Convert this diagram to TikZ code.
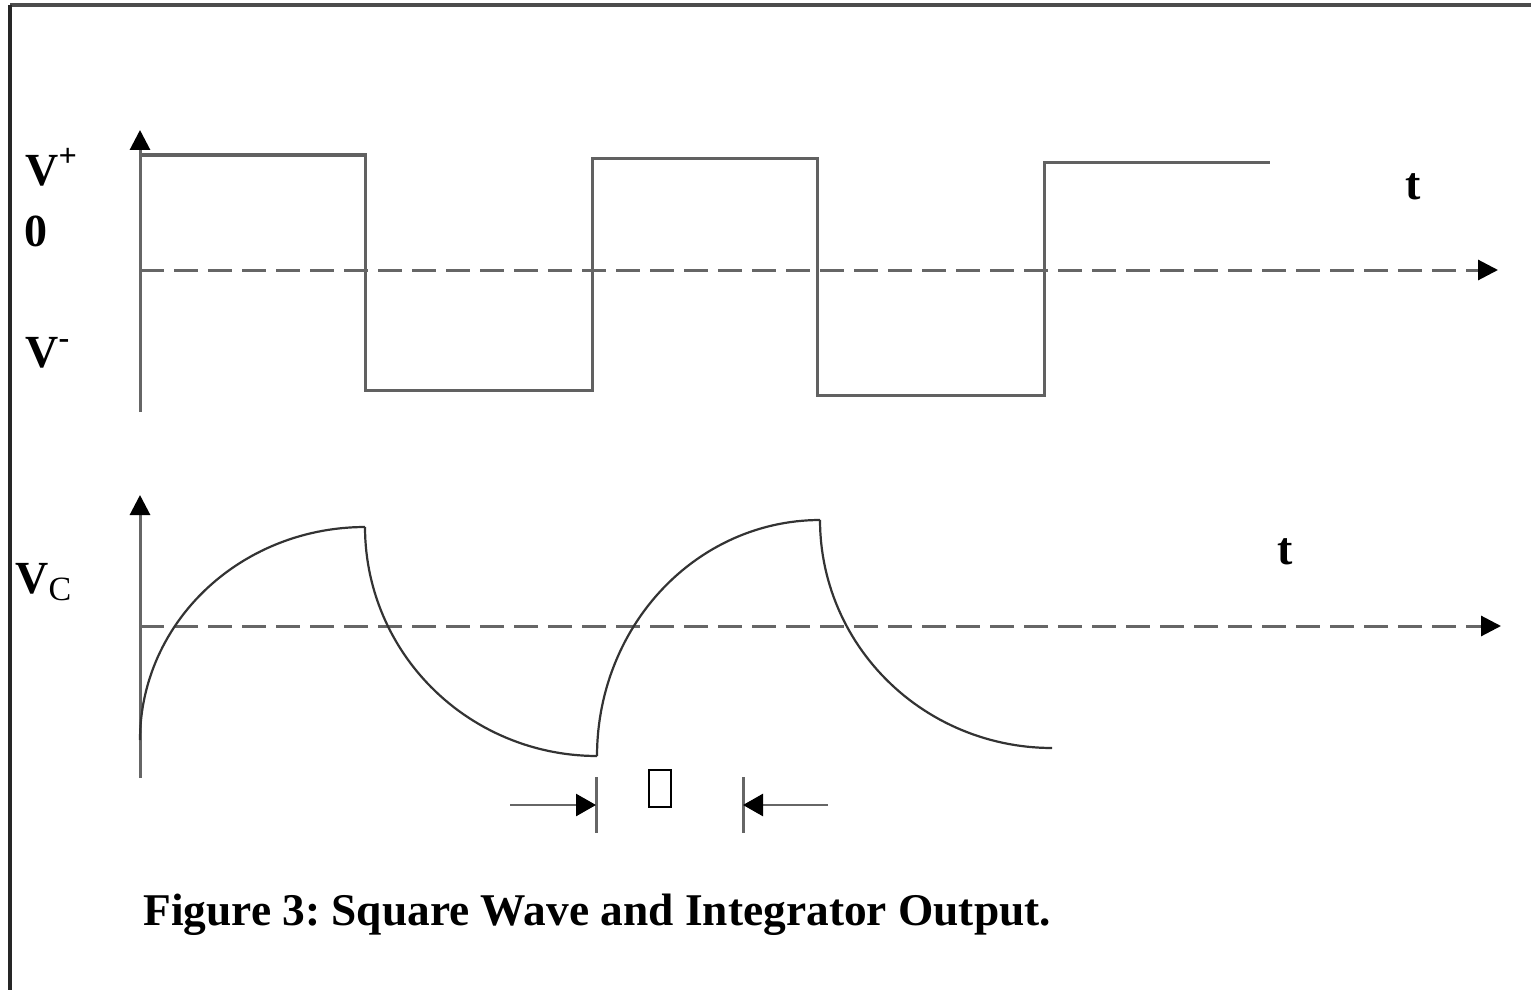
\documentclass[tikz,border=0pt]{standalone}
\usepackage{fontspec}
\setmainfont{Liberation Serif}
\usetikzlibrary{arrows.meta}
\frenchspacing
\begin{document}
\begin{tikzpicture}[x=0.5pt,y=-0.5pt,
  frame/.style={line width=2pt,draw=black!70},
  wave/.style={line width=1.5pt,draw=black!62},
  curve/.style={line width=1.1pt,draw=black!80},
  axis/.style={line width=1.5pt,draw=black!60,-{Triangle[length=10pt,width=10pt,color=black]}},
  dashaxis/.style={axis,dash pattern=on 12pt off 5pt},
  dim/.style={line width=1.3pt,draw=black!60,-{Triangle[length=10pt,width=11pt,color=black]}},
  tickline/.style={line width=1.5pt,draw=black!60},
  lbl/.style={font=\fontsize{23}{27}\selectfont\bfseries,inner sep=0pt,anchor=base west},
  captext/.style={font=\fontsize{22.7}{26}\selectfont\bfseries,inner sep=0pt,anchor=base west}]
\useasboundingbox (0,0) rectangle (1531,990);
% frame
\draw[frame] (10,5) -- (1531,5);
\draw[frame,draw=black!85] (10,5) -- (10,990);

% ---------- top panel ----------
\coordinate (a1b) at (140,412);
\coordinate (a1t) at (140,130);
\coordinate (h1l) at (140,270);
\coordinate (h1r) at (1498,270);
\draw[wave] (140,155) -- (365,155) -- (365,390) -- (592,390) -- (592,158)
  -- (817,158) -- (817,395) -- (1044,395) -- (1044,162) -- (1270,162);
\draw[axis] (a1b) -- (a1t);
\draw[dashaxis] (h1l) -- (h1r);
\node[lbl] (vp) at (25,185) {V\textsuperscript{+}};
\node[lbl] (zero) at (24,246) {0};
\node[lbl] (vm) at (25,367) {V\textsuperscript{-}};
\node[lbl] (t1) at (1405,199) {t};

% ---------- bottom panel ----------
\coordinate (a2b) at (140,778);
\coordinate (a2t) at (140,495);
\coordinate (h2l) at (140,626);
\coordinate (h2r) at (1501,626);
\draw[axis] (a2b) -- (a2t);
\draw[dashaxis] (h2l) -- (h2r);
\draw[curve] plot[domain=0:90,samples=60] ({365-225*cos(\x)},{740-213*sin(\x)});
\draw[curve] plot[domain=0:90,samples=60] ({597-232*cos(\x)},{527+229*sin(\x)});
\draw[curve] plot[domain=0:90,samples=60] ({820-223*cos(\x)},{756-236*sin(\x)});
\draw[curve] plot[domain=0:90,samples=60] ({1052-232*cos(\x)},{520+228*sin(\x)});
\node[lbl] (vc) at (15,593) {V\textsubscript{\fontsize{17}{20}\selectfont\mdseries C}};
\node[lbl] (t2) at (1277,564) {t};

% ---------- time-constant marker ----------
\coordinate (tl1) at (596,777);
\coordinate (tl2) at (596,833);
\coordinate (tr1) at (743,777);
\coordinate (tr2) at (743,833);
\coordinate (al) at (510,805);
\coordinate (alt) at (596,805);
\coordinate (ar) at (828,805);
\coordinate (art) at (743,805);
\draw[tickline] (tl1) -- (tl2);
\draw[tickline] (tr1) -- (tr2);
\draw[dim] (al) -- (alt);
\draw[dim] (ar) -- (art);
\node[draw=black,line width=1pt,minimum width=11pt,minimum height=18.5pt,inner sep=0pt] (tau) at (660,788) {};

% ---------- caption ----------
\node[captext] (caption) at (143,925) {Figure 3: Square Wave and Integrator Output.};
\end{tikzpicture}
\end{document}
